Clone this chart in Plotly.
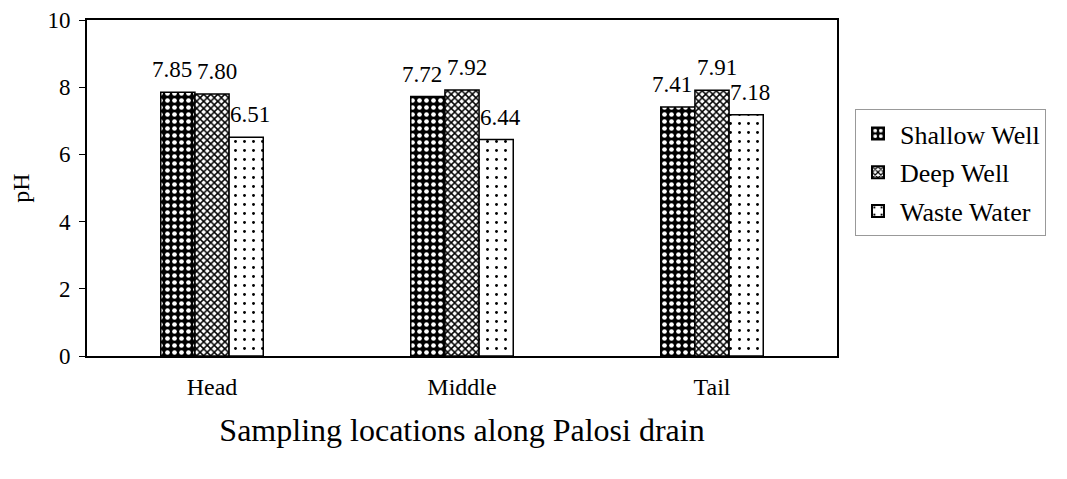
import plotly.graph_objects as go

categories = ["Head", "Middle", "Tail"]
shallow = [7.85, 7.72, 7.41]
deep = [7.80, 7.92, 7.91]
waste = [6.51, 6.44, 7.18]
series_names = ["Shallow Well", "Deep Well", "Waste Water"]

FONT = "Liberation Serif, Times New Roman, serif"

patterns = [
    dict(shape=".", bgcolor="black", fgcolor="white", size=7, solidity=0.35, fillmode="replace"),
    dict(shape="x", bgcolor="white", fgcolor="black", size=5, solidity=0.5, fillmode="replace"),
    dict(shape=".", bgcolor="white", fgcolor="black", size=9, solidity=0.08, fillmode="replace"),
]

BAR_PX = 34  # pixel width of one bar, used for label offsets
LABEL_NUDGE = [-6, 5, 4]  # small horizontal nudges of value labels, pixels

fig = go.Figure()
annotations = []
for i, (name, vals, pat) in enumerate(zip(series_names, [shallow, deep, waste], patterns)):
    fig.add_trace(go.Bar(
        x=categories, y=vals, name=name, legendgroup=name,
        marker=dict(color="white", pattern=pat, line=dict(color="black", width=1.5)),
        cliponaxis=False,
    ))
    for c, v in zip(categories, vals):
        annotations.append(dict(
            x=c, y=v, xref="x", yref="y", text=f"{v:.2f}", showarrow=False,
            xanchor="center", yanchor="bottom",
            xshift=(i - 1) * BAR_PX + LABEL_NUDGE[i], yshift=8,
            font=dict(family=FONT, size=23, color="black"),
        ))

fig.update_layout(
    width=1067, height=479,
    margin=dict(l=79, r=238, t=12, b=131, autoexpand=False),
    paper_bgcolor="white", plot_bgcolor="white",
    barmode="group", bargap=0.59, bargroupgap=0,
    font=dict(family=FONT, size=23, color="black"),
    showlegend=True,
    annotations=annotations,
    legend=dict(
        x=1.024, y=0.735, xanchor="left", yanchor="top",
        bordercolor="#999999", borderwidth=1,
        font=dict(family=FONT, size=26, color="black"),
        itemsizing="constant", tracegroupgap=2, itemwidth=34,
    ),
    xaxis=dict(
        title=dict(text="Sampling locations along Palosi drain", font=dict(size=32), standoff=20),
        showline=True, linecolor="black", linewidth=2, mirror=True,
        ticks="", tickfont=dict(size=24), ticklabelstandoff=8,
        automargin=False,
    ),
    yaxis=dict(
        title=dict(text="pH", font=dict(size=24), standoff=26),
        range=[0, 10], dtick=2,
        showline=True, linecolor="black", linewidth=2, mirror=True,
        showgrid=False, zeroline=False,
        ticks="outside", ticklen=6, tickcolor="black",
        tickfont=dict(size=23), ticklabelstandoff=4,
        ticklabeloverflow="allow",
        automargin=False,
    ),
)

fig.write_html("out.html")
